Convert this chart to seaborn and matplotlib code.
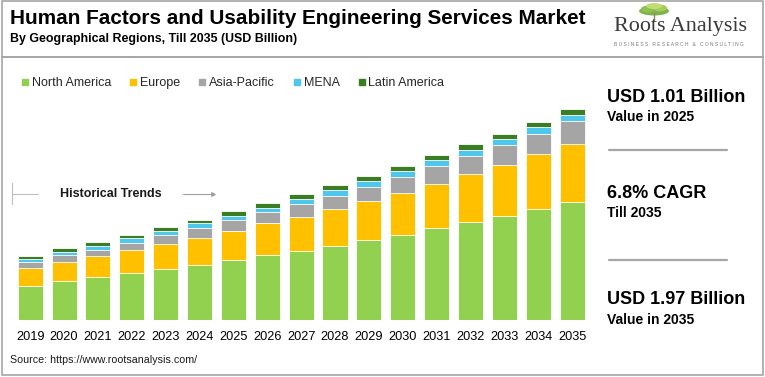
import matplotlib
matplotlib.use("Agg")
import matplotlib.pyplot as plt
from matplotlib.lines import Line2D
from matplotlib.patches import Rectangle, Ellipse
import seaborn as sns
import pandas as pd
import numpy as np

# ---------------- data ----------------
years = [str(y) for y in range(2019, 2036)]
regions = ["North America", "Europe", "Asia-Pacific", "MENA", "Latin America"]
north_america = [0.320, 0.367, 0.399, 0.436, 0.479, 0.516, 0.560, 0.604, 0.647,
                 0.694, 0.747, 0.796, 0.856, 0.912, 0.968, 1.036, 1.099]
europe = [0.165, 0.172, 0.196, 0.215, 0.228, 0.252, 0.268, 0.299, 0.317,
          0.343, 0.364, 0.389, 0.414, 0.448, 0.479, 0.514, 0.544]
asia_pacific = [0.053, 0.071, 0.062, 0.071, 0.084, 0.091, 0.103, 0.103, 0.121,
                0.124, 0.134, 0.152, 0.165, 0.171, 0.184, 0.190, 0.212]
mena = [0.031, 0.028, 0.037, 0.041, 0.043, 0.047, 0.043, 0.043, 0.044,
        0.050, 0.053, 0.056, 0.056, 0.053, 0.056, 0.060, 0.059]
latin_america = [0.028, 0.032, 0.035, 0.034, 0.035, 0.031, 0.041, 0.041, 0.044,
                 0.047, 0.047, 0.047, 0.047, 0.056, 0.052, 0.049, 0.056]
colors = ["#92D050", "#FFC000", "#A5A5A5", "#4FC6EC", "#3A7D22"]

title = "Human Factors and Usability Engineering Services Market"
subtitle = "By Geographical Regions, Till 2035 (USD Billion)"
kpis = [("USD 1.01 Billion", "Value in 2025"),
        ("6.8% CAGR", "Till 2035"),
        ("USD 1.97 Billion", "Value in 2035")]
source = "Source: https://www.rootsanalysis.com/"

series = [north_america, europe, asia_pacific, mena, latin_america]
df = pd.DataFrame({"Year": years})
cum = np.zeros(len(years))
for name, vals in zip(regions, series):
    cum = cum + np.array(vals)
    df[name] = cum

# ---------------- figure ----------------
sns.set_theme(style="white")
plt.rcParams["font.family"] = ["Liberation Sans", "DejaVu Sans"]

W, H = 765, 377
fig = plt.figure(figsize=(W / 100, H / 100), dpi=100)
fig.patch.set_facecolor("white")


def fx(x):
    return x / W


def fy(y):
    return 1 - y / H


# frames
fig.add_artist(Rectangle((fx(2), fy(57)), fx(761) - fx(0), fy(1) - fy(57),
                         transform=fig.transFigure, fill=False,
                         edgecolor="#a6a6a6", lw=1.2))
fig.add_artist(Rectangle((fx(2), fy(375)), fx(761) - fx(0), fy(57) - fy(375),
                         transform=fig.transFigure, fill=False,
                         edgecolor="#a6a6a6", lw=1.2))

# axes
left, right, top, bottom = 13.3, 589.0, 100.0, 320.0
ax = fig.add_axes([fx(left), fy(bottom), fx(right - left), (bottom - top) / H])
ymax = (bottom - top) / 107.1

for i in reversed(range(len(regions))):
    sns.barplot(data=df, x="Year", y=regions[i], order=years, color=colors[i],
                saturation=1, width=0.74, edgecolor="white", linewidth=0.6,
                errorbar=None, ax=ax)

ax.set_xlim(-0.5, len(years) - 0.5)
ax.set_ylim(0, ymax)
ax.axhline(0, color="#d9d9d9", lw=0.9, zorder=0)
for s in ax.spines.values():
    s.set_visible(False)
ax.set_yticks([])
ax.set_xlabel("")
ax.set_ylabel("")
ax.tick_params(axis="x", length=0, pad=8, labelsize=9.2, labelcolor="black")
ax.patch.set_alpha(0)

# legend
handles = [Line2D([0], [0], marker="s", linestyle="none", markersize=4.5,
                  markerfacecolor=c, markeredgecolor=c) for c in colors]
fig.legend(handles, regions, loc="center left", bbox_to_anchor=(fx(14), fy(83)),
           ncol=5, frameon=False, fontsize=9, handletextpad=0.05,
           columnspacing=1.25, handlelength=1.0, borderaxespad=0)

# title & subtitle (fit to measured widths)
renderer = fig.canvas.get_renderer()


def fit_text(x, y, s, target_w, size, **kw):
    t = fig.text(fx(x), fy(y), s, fontsize=size, va="center", ha="left", **kw)
    w = t.get_window_extent(renderer=renderer).width
    t.set_fontsize(size * target_w / w)
    return t


fit_text(10, 18, title, 578, 14, fontweight="bold", color="black")
fit_text(10, 39, subtitle, 287, 8.5, fontweight="bold", color="black")

# logo
tree = [(654, 11, 30, 9, "#7fb24a"), (648, 9, 14, 7, "#8cc152"),
        (660, 8, 14, 7, "#a5cc5a"), (654, 6, 16, 6, "#c2dc74")]
for (x, y, w, h, c) in tree:
    fig.add_artist(Ellipse((fx(x), fy(y)), w / W, h / H, transform=fig.transFigure,
                           facecolor=c, edgecolor="none"))
fig.add_artist(Line2D([fx(654), fx(654)], [fy(13), fy(20)], transform=fig.transFigure,
                      color="#8a8a6a", lw=1.0))
fit_text(614, 27, "Roots Analysis", 133, 16, family=["Liberation Serif", "DejaVu Serif"],
         color="#3a3a3a")
fit_text(614, 44.5, "B U S I N E S S   R E S E A R C H   &   C O N S U L T I N G", 132, 3.5,
         color="#777777")

# historical trends
fig.text(fx(60), fy(194), "Historical Trends", fontsize=9, fontweight="bold",
         va="center", ha="left", color="#1a1a1a")
fig.add_artist(Line2D([fx(12), fx(38)], [fy(194.5), fy(194.5)], transform=fig.transFigure,
                      color="#bfbfbf", lw=0.8))
fig.add_artist(Line2D([fx(12), fx(12)], [fy(183), fy(204)], transform=fig.transFigure,
                      color="#bfbfbf", lw=0.8))
fig.add_artist(Line2D([fx(183), fx(211)], [fy(194.5), fy(194.5)], transform=fig.transFigure,
                      color="#a0a0a0", lw=0.8))
fig.add_artist(Line2D([fx(213)], [fy(194.5)], transform=fig.transFigure, marker=">",
                      markersize=2.5, color="#a0a0a0", linestyle="none"))

# right panel KPIs
kpi_y = [(97, 117), (194, 213), (300, 320)]
for (big, small), (y1, y2) in zip(kpis, kpi_y):
    fig.text(fx(607), fy(y1), big, fontsize=13, fontweight="bold", va="center",
             ha="left", color="black")
    fig.text(fx(607), fy(y2), small, fontsize=10, fontweight="bold", va="center",
             ha="left", color="black")
for y in (150, 260):
    fig.add_artist(Line2D([fx(609), fx(727)], [fy(y), fy(y)], transform=fig.transFigure,
                          color="#a6a6a6", lw=1.6))

# source
fig.text(fx(10), fy(360), source, fontsize=7.7, va="center", ha="left", color="#1a1a1a")

fig.savefig("out.png", dpi=100, facecolor="white")
